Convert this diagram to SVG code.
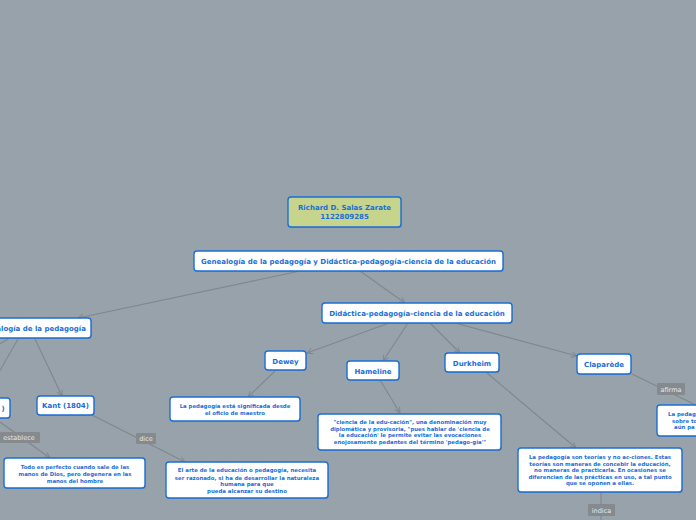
<svg xmlns="http://www.w3.org/2000/svg" width="696" height="520" viewBox="0 0 696 520">
<style>
.n{fill:#ffffff;stroke:#1a6fd6;stroke-width:1.4}
.sh{fill:#7d858c;opacity:0.6}
.t{font-family:"DejaVu Sans",Verdana,sans-serif;font-weight:bold;fill:#1a6fd6;text-anchor:middle}
.h{font-size:7px}
.s{font-size:5.4px}
.c{stroke:#80878d;stroke-width:1.1;fill:none}
.lb{fill:#858a8f}
.lt{font-family:"DejaVu Sans",Verdana,sans-serif;font-size:6.5px;fill:#e8e8e8;text-anchor:middle}
</style>
<defs>
<marker id="a" viewBox="0 0 10 10" refX="9" refY="5" markerWidth="7" markerHeight="7" orient="auto" markerUnits="userSpaceOnUse">
<path d="M1,1 L9,5 L1,9" fill="none" stroke="#80878d" stroke-width="1.4"/>
</marker>
</defs>
<rect width="696" height="520" fill="#98a2ab"/>
<g id="connectors">
<line class="c" x1="300" y1="271" x2="78" y2="318" marker-end="url(#a)"/>
<line class="c" x1="360" y1="271" x2="405" y2="303" marker-end="url(#a)"/>
<line class="c" x1="18" y1="339" x2="-2" y2="374"/>
<line class="c" x1="8" y1="339" x2="-2" y2="345"/>
<line class="c" x1="35" y1="339" x2="62" y2="396" marker-end="url(#a)"/>
<line class="c" x1="0" y1="422" x2="50" y2="458" marker-end="url(#a)"/>
<line class="c" x1="92" y1="415" x2="185" y2="462" marker-end="url(#a)"/>
<line class="c" x1="389" y1="323" x2="307" y2="353" marker-end="url(#a)"/>
<line class="c" x1="408" y1="323" x2="383" y2="361" marker-end="url(#a)"/>
<line class="c" x1="430" y1="323" x2="460" y2="353" marker-end="url(#a)"/>
<line class="c" x1="455" y1="323" x2="577" y2="356" marker-end="url(#a)"/>
<line class="c" x1="275" y1="371" x2="248" y2="397" marker-end="url(#a)"/>
<line class="c" x1="380" y1="380" x2="400" y2="413" marker-end="url(#a)"/>
<line class="c" x1="487" y1="373" x2="576" y2="448" marker-end="url(#a)"/>
<line class="c" x1="632" y1="374" x2="700" y2="407"/>
<line class="c" x1="601" y1="492" x2="601" y2="520"/>
<rect class="lb" x="0" y="432" width="40" height="11" rx="1"/>
<text class="lt" x="19" y="440">establece</text>
<rect class="lb" x="136" y="433" width="20" height="11" rx="1"/>
<text class="lt" x="146" y="441">dice</text>
<rect class="lb" x="657" y="383" width="28" height="12" rx="1"/>
<text class="lt" x="671" y="391.5">afirma</text>
<rect class="lb" x="588" y="504" width="27" height="12" rx="1"/>
<text class="lt" x="601.5" y="512.5">indica</text>
</g>
<g id="root">
<rect class="sh" x="289" y="198" width="113" height="30" rx="3"/>
<rect x="288" y="197" width="113" height="30" rx="3" fill="#c6d48c" stroke="#1a6fd6" stroke-width="1.4"/>
<text class="t h" x="344.5" y="209.5">Richard D. Salas Zarate</text>
<text class="t h" x="344.5" y="219">1122809285</text>
</g>
<g id="main">
<rect class="sh" x="195" y="252" width="309" height="20" rx="3"/>
<rect class="n" x="194" y="251" width="309" height="20" rx="3"/>
<text class="t h" x="348.5" y="263.5">Genealogía de la pedagogía y Didáctica-pedagogía-ciencia de la educación</text>
</g>
<g id="genealogia">
<rect class="sh" x="-29" y="319" width="121" height="20" rx="3"/>
<rect class="n" x="-30" y="318" width="121" height="20" rx="3"/>
<text class="t h" x="31" y="330.5">Genealogía de la pedagogía</text>
</g>
<g id="didactica">
<rect class="sh" x="323" y="304" width="190" height="20" rx="3"/>
<rect class="n" x="322" y="303" width="190" height="20" rx="3"/>
<text class="t h" x="417" y="315.5">Didáctica-pedagogía-ciencia de la educación</text>
</g>
<g id="rousseau">
<rect class="sh" x="-29" y="399" width="40" height="20" rx="3"/>
<rect class="n" x="-30" y="398" width="40" height="20" rx="3"/>
<text class="t h" x="3" y="410.5">)</text>
</g>
<g id="kant">
<rect class="sh" x="38" y="397" width="57" height="19" rx="3"/>
<rect class="n" x="37" y="396" width="57" height="19" rx="3"/>
<text class="t h" x="65.5" y="408">Kant (1804)</text>
</g>
<g id="dewey">
<rect class="sh" x="266" y="352" width="41" height="19" rx="3"/>
<rect class="n" x="265" y="351" width="41" height="19" rx="3"/>
<text class="t h" x="285.5" y="363.5">Dewey</text>
</g>
<g id="hameline">
<rect class="sh" x="348" y="362" width="52" height="19" rx="3"/>
<rect class="n" x="347" y="361" width="52" height="19" rx="3"/>
<text class="t h" x="373" y="373.5">Hameline</text>
</g>
<g id="durkheim">
<rect class="sh" x="446" y="354" width="54" height="19" rx="3"/>
<rect class="n" x="445" y="353" width="54" height="19" rx="3"/>
<text class="t h" x="472" y="365.5">Durkheim</text>
</g>
<g id="claparede">
<rect class="sh" x="578" y="355" width="54" height="20" rx="3"/>
<rect class="n" x="577" y="354" width="54" height="20" rx="3"/>
<text class="t h" x="604" y="366.5">Claparède</text>
</g>
<g id="dewey-child">
<rect class="sh" x="171" y="398" width="130" height="24" rx="3"/>
<rect class="n" x="170" y="397" width="130" height="24" rx="3"/>
<text class="t s" x="235" y="407.5">La pedagogía está significada desde</text>
<text class="t s" x="235" y="414.5">el oficio de maestro</text>
</g>
<g id="hameline-child">
<rect class="sh" x="319" y="415" width="183" height="36" rx="3"/>
<rect class="n" x="318" y="414" width="183" height="36" rx="3"/>
<text class="t s" x="410" y="424">"ciencia de la edu-cación", una denominación muy</text>
<text class="t s" x="410" y="430.5">diplomática y provisoria, "pues hablar de 'ciencia de</text>
<text class="t s" x="410" y="437">la educación' le permite evitar las evocaciones</text>
<text class="t s" x="410" y="443.5">enojosamente pedantes del término 'pedago-gía'"</text>
</g>
<g id="durkheim-child">
<rect class="sh" x="519" y="449" width="164" height="44" rx="3"/>
<rect class="n" x="518" y="448" width="164" height="44" rx="3"/>
<text class="t s" x="600" y="459">La pedagogía son teorías y no ac-ciones. Estas</text>
<text class="t s" x="600" y="465.5">teorías son maneras de concebir la educación,</text>
<text class="t s" x="600" y="472">no maneras de practicarla. En ocasiones se</text>
<text class="t s" x="600" y="478.5">diferencian de las prácticas en uso, a tal punto</text>
<text class="t s" x="600" y="485">que se oponen a ellas.</text>
</g>
<g id="claparede-child">
<rect class="sh" x="658" y="406" width="60" height="31" rx="3"/>
<rect class="n" x="657" y="405" width="60" height="31" rx="3"/>
<text class="t s" x="668" y="416" style="text-anchor:start">La pedag</text>
<text class="t s" x="672" y="422.5" style="text-anchor:start">sobre to</text>
<text class="t s" x="674" y="429" style="text-anchor:start">aún pa</text>
</g>
<g id="rousseau-child">
<rect class="sh" x="5" y="459" width="141" height="30" rx="3"/>
<rect class="n" x="4" y="458" width="141" height="30" rx="3"/>
<text class="t s" x="75" y="468.5">Todo es perfecto cuando sale de las</text>
<text class="t s" x="75" y="475.5">manos de Dios, pero degenera en las</text>
<text class="t s" x="75" y="482.5">manos del hombre</text>
</g>
<g id="kant-child">
<rect class="sh" x="167" y="463" width="162" height="36" rx="3"/>
<rect class="n" x="166" y="462" width="162" height="36" rx="3"/>
<text class="t s" x="247" y="472">El arte de la educación o pedagogía, necesita</text>
<text class="t s" x="247" y="479.5">ser razonado, si ha de desarrollar la naturaleza</text>
<text class="t s" x="247" y="486">humana para que</text>
<text class="t s" x="247" y="493">pueda alcanzar su destino</text>
</g>
</svg>
